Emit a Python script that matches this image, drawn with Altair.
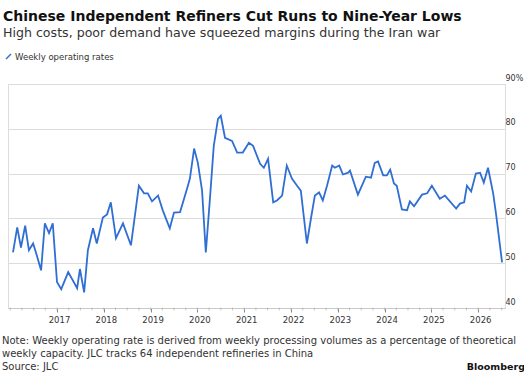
import altair as alt
import pandas as pd

# Fractional-year positions of the weekly operating-rate readings (approx. from picture)
period = [2016.06, 2016.15, 2016.23, 2016.32, 2016.40, 2016.49, 2016.55, 2016.66, 2016.74, 2016.83,
          2016.91, 2017.00, 2017.09, 2017.24, 2017.43, 2017.49, 2017.58, 2017.66, 2017.77, 2017.85,
          2017.98, 2018.07, 2018.15, 2018.26, 2018.41, 2018.58, 2018.75, 2018.86, 2018.94, 2019.03,
          2019.16, 2019.26, 2019.41, 2019.50, 2019.63, 2019.78, 2019.84, 2019.93, 2020.01, 2020.10,
          2020.18, 2020.27, 2020.35, 2020.44, 2020.50, 2020.59, 2020.74, 2020.85, 2020.97, 2021.10,
          2021.19, 2021.34, 2021.42, 2021.51, 2021.62, 2021.70, 2021.81, 2021.91, 2022.02, 2022.13,
          2022.21, 2022.34, 2022.43, 2022.51, 2022.60, 2022.68, 2022.77, 2022.88, 2022.94, 2023.03,
          2023.11, 2023.22, 2023.26, 2023.43, 2023.60, 2023.71, 2023.79, 2023.86, 2023.97, 2024.05,
          2024.12, 2024.20, 2024.26, 2024.37, 2024.48, 2024.54, 2024.63, 2024.80, 2024.91, 2025.01,
          2025.18, 2025.29, 2025.53, 2025.61, 2025.70, 2025.76, 2025.85, 2025.95, 2026.04, 2026.12,
          2026.21, 2026.32, 2026.38, 2026.51]
rate = [52.4, 58.0, 53.5, 58.4, 52.9, 54.4, 52.4, 48.4, 58.9, 56.7,
        58.9, 45.8, 44.2, 48.0, 44.4, 48.7, 43.5, 52.9, 57.8, 54.4,
        60.2, 60.9, 63.6, 55.6, 58.9, 54.0, 67.3, 65.6, 65.6, 63.8,
        65.1, 61.8, 57.8, 61.3, 61.4, 66.7, 68.9, 75.6, 72.4, 66.2,
        52.4, 64.7, 76.2, 82.2, 82.9, 78.0, 77.3, 74.7, 74.7, 76.9,
        76.2, 72.2, 71.3, 73.3, 63.6, 64.0, 65.1, 71.8, 68.9, 67.3,
        66.2, 54.4, 60.2, 65.1, 65.8, 64.0, 67.3, 71.8, 71.3, 71.8,
        69.8, 70.2, 70.7, 65.3, 69.3, 69.1, 72.4, 72.7, 69.6, 69.6,
        70.9, 67.8, 67.3, 62.0, 61.8, 63.8, 62.7, 65.3, 65.6, 67.3,
        64.4, 65.1, 62.2, 63.3, 63.6, 67.3, 66.0, 70.0, 70.2, 68.0,
        71.3, 65.6, 61.1, 50.2]

year_ticks = [2017, 2018, 2019, 2020, 2021, 2022, 2023, 2024, 2025, 2026]
minor_ticks = [y + q / 4 for y in range(2016, 2027) for q in range(4)]
y_ticks = [40, 50, 60, 70, 80, 90]

title = "Chinese Independent Refiners Cut Runs to Nine-Year Lows"
subtitle = "High costs, poor demand have squeezed margins during the Iran war"
legend_label = "Weekly operating rates"
note1 = "Note: Weekly operating rate is derived from weekly processing volumes as a percentage of theoretical"
note2 = "weekly capacity. JLC tracks 64 independent refineries in China"
source = "Source: JLC"
brand = "Bloomberg"

FONT = "DejaVu Sans"
BLUE = "#2f6fd3"
X_DOMAIN = [2015.953, 2026.573]

df = pd.DataFrame({"period": period, "rate": rate})

xscale = alt.Scale(domain=X_DOMAIN, nice=False, zero=False)
yscale = alt.Scale(domain=[40, 90], nice=False, zero=False)

line = alt.Chart(df).mark_line(color=BLUE, strokeWidth=1.8).encode(
    x=alt.X("period:Q", scale=xscale, title=None,
            axis=alt.Axis(values=year_ticks, format="d", grid=False, domainColor="#c8c8c8",
                          tickColor="#888888", tickSize=4, labelFontSize=8.5, labelPadding=3,
                          labelColor="#333333", labelFont=FONT, labelFlush=False, labelOffset=2)),
    y=alt.Y("rate:Q", scale=yscale, title=None,
            axis=alt.Axis(orient="right", values=y_ticks, grid=True, gridColor="#dcdcdc",
                          domain=False, ticks=False, labelAlign="left", labelPadding=0,
                          labelBaseline="bottom", labelOffset=-2, labelFontSize=8,
                          labelColor="#333333", labelFont=FONT,
                          labelExpr="datum.value == 90 ? '90%' : datum.label")),
)

minor = alt.Chart(pd.DataFrame({"m": [m for m in minor_ticks if X_DOMAIN[0] <= m <= X_DOMAIN[1]]})).mark_tick(
    color="#b0b0b0", orient="vertical", size=3, thickness=1
).encode(x=alt.X("m:Q", scale=xscale), y=alt.value(225))


def label(text, x, y, size, weight="normal", color="#222222", align="left"):
    return alt.Chart(pd.DataFrame({"t": [text]})).mark_text(
        font=FONT, fontSize=size, fontWeight=weight, color=color, align=align, baseline="middle"
    ).encode(text="t:N", x=alt.value(x), y=alt.value(y))


legend_icon = alt.Chart(pd.DataFrame({"t": [legend_label]})).mark_rule(color=BLUE, strokeWidth=1.5).encode(
    x=alt.value(-2), x2=alt.value(3), y=alt.value(-25), y2=alt.value(-30)
)

chart = alt.layer(
    line, minor,
    label(title, -5, -67, 14.0, weight="bold", color="#111111"),
    label(subtitle, -5, -51, 12.6, color="#333333"),
    legend_icon,
    label(legend_label, 7, -27, 8.5, color="#333333"),
    label(note1, -6, 257, 10.0, color="#333333"),
    label(note2, -6, 270, 10.0, color="#333333"),
    label(source, -6, 283, 10.0, color="#333333"),
    label(brand, 517, 283, 9.5, weight="bold", color="#111111", align="right"),
).properties(
    width=497, height=224,
    autosize=alt.AutoSizeParams(type="none"),
    padding={"left": 8, "top": 84, "right": 19, "bottom": 67},
).configure_view(stroke=None).configure(background="white")

chart.save("out.html", embed_options={"renderer": "svg", "actions": False})
